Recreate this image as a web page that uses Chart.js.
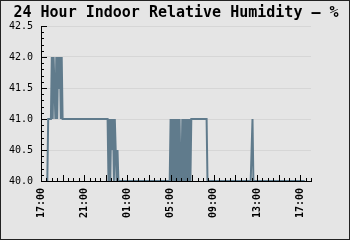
<!DOCTYPE html>
<html>
<head>
<meta charset="utf-8">
<script src="https://cdn.jsdelivr.net/npm/chart.js@4/dist/chart.umd.min.js"></script>
<style>
  html, body { margin: 0; padding: 0; background: #e5e5e5; }
  #wrap { width: 350px; height: 240px; }
</style>
</head>
<body>
<div id="wrap"><canvas id="chart" width="350" height="240"></canvas></div>
<script>
// readings, 24h window starting 17:00
const times = [
  "17:35", "17:40", "17:55", "18:00", "18:05", "18:10", "18:15", "18:20",
  "18:25", "18:30", "18:35", "18:40", "18:45", "18:50", "18:55", "19:00",
  "23:10", "23:15", "23:20", "23:25", "23:30", "23:35", "23:40", "23:45",
  "23:50", "23:55", "00:00", "00:05", "00:10",
  "04:55", "05:00", "05:05", "05:10", "05:15", "05:20", "05:25", "05:30",
  "05:35", "05:40", "05:45", "05:50", "05:55", "06:00", "06:05", "06:10",
  "06:15", "06:20", "06:25", "06:30", "06:35", "06:40", "06:45", "06:50",
  "06:55", "08:20", "08:25",
  "12:25", "12:30", "12:35", "12:40", "17:25"
];
const humidity = [
  40, 41, 41, 42, 41, 42, 41.5, 41,
  42, 41, 42, 41.5, 42, 41, 42, 41,
  41, 40, 41, 40, 41, 40.5, 41, 40,
  41, 40.5, 40, 40.5, 40,
  40, 41, 40, 41, 40, 41, 40, 41,
  40, 41, 40, 41, 40, 40, 41, 40,
  41, 40, 41, 40, 41, 40, 41, 40,
  41, 41, 40,
  40, 40.5, 41, 40, 40
];
const startHour = 17;
const spanHours = 25;
const xLabelHours = [0, 4, 8, 12, 16, 20, 24];
const yTicks = [40.0, 40.5, 41.0, 41.5, 42.0, 42.5];
const titleText = "24 Hour Indoor Relative Humidity \u2013 %";

const LINE = "#607b8c";
const BG = "#e5e5e5";
const GRID = "#d6d6d6";

// hours since 17:00, kept increasing across the day boundary
function toHours(list) {
  const out = [];
  let prev = -1;
  list.forEach(t => {
    const [hh, mm] = t.split(":").map(Number);
    let h = ((hh - startHour + 24) % 24) + mm / 60;
    while (h < prev) h += 24;
    out.push(h);
    prev = h;
  });
  return out;
}
const hours = toHours(times);
const points = hours.map((h, i) => ({ x: h, y: humidity[i] }));

// background, frame and title
const frame = {
  id: "frame",
  beforeDraw(chart) {
    const ctx = chart.ctx;
    ctx.save();
    ctx.fillStyle = BG;
    ctx.fillRect(0, 0, chart.width, chart.height);
    ctx.restore();
  },
  afterDraw(chart) {
    const ctx = chart.ctx;
    ctx.save();
    ctx.fillStyle = "#000";
    ctx.font = "bold 15px 'DejaVu Sans Mono', monospace";
    ctx.textAlign = "center";
    ctx.textBaseline = "middle";
    ctx.fillText(titleText, chart.width / 2 + 1, 13);
    ctx.strokeStyle = "#222";
    ctx.lineWidth = 1;
    ctx.strokeRect(0.5, 0.5, chart.width - 1, chart.height - 1);
    ctx.restore();
  }
};

// small tick marks pointing into the plot
const innerTicks = {
  id: "innerTicks",
  afterDatasetsDraw(chart) {
    const { ctx, chartArea, scales } = chart;
    ctx.save();
    ctx.strokeStyle = "#000";
    ctx.lineWidth = 1;
    ctx.beginPath();
    for (let i = 0; i <= 25; i++) {
      const y = Math.round(scales.y.getPixelForValue(40 + i * 0.1)) + 0.5;
      const len = i % 5 === 0 ? 6 : 3;
      ctx.moveTo(chartArea.left, y);
      ctx.lineTo(chartArea.left + len, y);
    }
    for (let i = 0; i <= spanHours * 2; i++) {
      const x = Math.round(scales.x.getPixelForValue(i * 0.5)) + 0.5;
      const len = i % 4 === 0 ? 6 : 3;
      ctx.moveTo(x, chartArea.bottom);
      ctx.lineTo(x, chartArea.bottom - len);
    }
    ctx.stroke();
    ctx.restore();
  }
};

new Chart(document.getElementById("chart"), {
  type: "line",
  data: {
    datasets: [{
      data: points,
      borderColor: LINE,
      borderWidth: 2,
      pointRadius: 0,
      tension: 0,
      fill: false
    }]
  },
  options: {
    responsive: false,
    animation: false,
    events: [],
    layout: { autoPadding: false, padding: { top: 26, right: 39, left: 0, bottom: 0 } },
    plugins: { legend: { display: false }, tooltip: { enabled: false }, title: { display: false } },
    scales: {
      x: {
        type: "linear",
        min: 0,
        max: spanHours,
        afterFit: s => { s.height = 59; },
        afterBuildTicks: s => { s.ticks = xLabelHours.map(v => ({ value: v })); },
        grid: { display: false, drawTicks: false },
        border: { display: true, color: "#000", width: 1 },
        ticks: {
          autoSkip: false,
          minRotation: 90,
          maxRotation: 90,
          padding: 7,
          color: "#000",
          font: { family: "'DejaVu Sans Mono', monospace", size: 10, weight: "bold" },
          callback: v => {
            const h = (startHour + v) % 24;
            return String(h).padStart(2, "0") + ":00";
          }
        }
      },
      y: {
        min: 40,
        max: 42.5,
        afterFit: s => { s.width = 41; },
        afterBuildTicks: s => { s.ticks = yTicks.map(v => ({ value: v })); },
        grid: { color: GRID, lineWidth: 1, drawTicks: false },
        border: { display: true, color: "#000", width: 1 },
        ticks: {
          padding: 8,
          color: "#000",
          font: { family: "'DejaVu Sans Mono', monospace", size: 10 },
          callback: v => Number(v).toFixed(1)
        }
      }
    }
  },
  plugins: [frame, innerTicks]
});
</script>
</body>
</html>
